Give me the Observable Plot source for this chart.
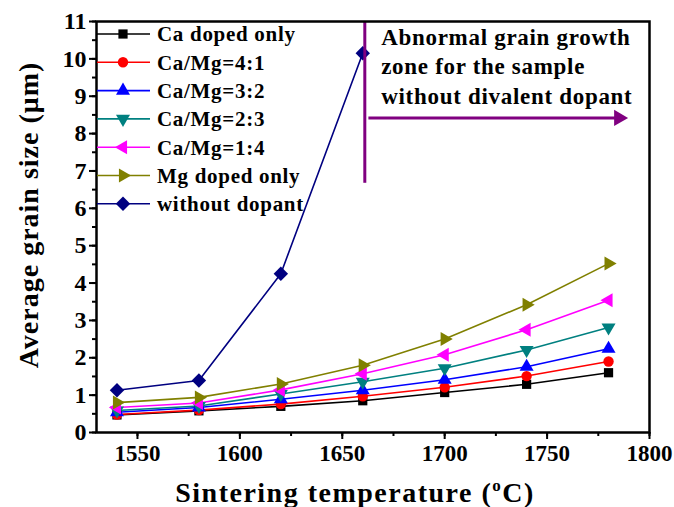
<!DOCTYPE html>
<html><head><meta charset="utf-8">
<script src="https://cdn.jsdelivr.net/npm/d3@7"></script>
<script src="https://cdn.jsdelivr.net/npm/@observablehq/plot@0.6"></script>
<style>body{margin:0;background:#fff}</style>
</head><body><div id="chart"></div>
<script>
// ---- data ----
const temperatures = [1540, 1580, 1620, 1660, 1700, 1740, 1780];
const seriesNames = ["Ca doped only", "Ca/Mg=4:1", "Ca/Mg=3:2", "Ca/Mg=2:3", "Ca/Mg=1:4", "Mg doped only", "without dopant"];
const caDopedOnly   = [0.47, 0.58, 0.70, 0.85, 1.07, 1.29, 1.60];
const caMg41        = [0.48, 0.60, 0.76, 0.97, 1.21, 1.51, 1.90];
const caMg32        = [0.54, 0.67, 0.89, 1.13, 1.41, 1.76, 2.24];
const caMg23        = [0.59, 0.71, 1.03, 1.36, 1.72, 2.21, 2.81];
const caMg14        = [0.67, 0.79, 1.14, 1.57, 2.08, 2.75, 3.54];
const mgDopedOnly   = [0.80, 0.94, 1.30, 1.80, 2.50, 3.42, 4.52];
const withoutDopant = [1.13, 1.39, 4.25, 10.15];
const xTickValues = [1550, 1600, 1650, 1700, 1750, 1800];
const yTickValues = [0, 1, 2, 3, 4, 5, 6, 7, 8, 9, 10, 11];
const annotationLines = ["Abnormal grain growth", "zone for the sample", "without divalent dopant"];
// annotation geometry in data units
const zoneLine = {x: 1661, y1: 6.67, y2: 11};
const zoneArrow = {x1: 1663, x2: 1785, y: 8.42};
const zoneText = {x: 1669, y: 10.95};

// ---- styles ----
const seriesColors = ["#000000", "#ff0000", "#0000ff", "#008080", "#ff00ff", "#808000", "#000080"];
const seriesSymbols = ["square", "circle", "triangle", "triangle", "triangle", "triangle", "diamond2"];
const seriesRotate = [0, 0, 0, 180, -90, 90, 0];
const seriesR = [5.2, 5.2, 5.2, 5.2, 5.2, 5.2, 6.5];
const purple = "#800080";
const FONT = "'Liberation Serif', 'Times New Roman', serif";

const seriesValues = [caDopedOnly, caMg41, caMg32, caMg23, caMg14, mgDopedOnly, withoutDopant];
const rows = seriesNames.map((name, i) =>
  seriesValues[i].map((v, j) => ({series: name, idx: i, t: temperatures[j], v})));

const marks = [];
rows.forEach((data, i) => {
  marks.push(Plot.line(data, {x: "t", y: "v", stroke: seriesColors[i], strokeWidth: 1.6}));
});
rows.forEach((data, i) => {
  marks.push(Plot.dot(data, {x: "t", y: "v", symbol: seriesSymbols[i], fill: seriesColors[i], stroke: "none",
    r: seriesR[i], rotate: seriesRotate[i]}));
});

const plot = Plot.plot({
  width: 674,
  height: 507,
  marginLeft: 96,
  marginRight: 25,
  marginTop: 21,
  marginBottom: 75,
  style: {fontFamily: FONT, fontWeight: "bold", fontSize: "23px", background: "#fff", color: "#000"},
  x: {domain: [1530, 1800]},
  y: {domain: [0, 11]},
  marks: [
    Plot.axisX({ticks: d3.range(1550, 1801, 25), tickSize: 4, strokeWidth: 2, tickFormat: () => "", label: null}),
    Plot.axisX({ticks: xTickValues, tickSize: 7, strokeWidth: 2, tickPadding: 5, tickFormat: d => String(d), label: null, fontSize: 23}),
    Plot.axisY({ticks: d3.range(0, 11.01, 0.5), tickSize: 4, strokeWidth: 2, tickFormat: () => "", label: null}),
    Plot.axisY({ticks: yTickValues, tickSize: 7, strokeWidth: 2, tickPadding: 3, tickFormat: d => String(d), label: null, fontSize: 24}),
    ...marks,
    Plot.ruleX([zoneLine], {x: "x", y1: "y1", y2: "y2", stroke: purple, strokeWidth: 3}),
    Plot.ruleY([zoneArrow], {y: "y", x1: "x1", x2: "x2", stroke: purple, strokeWidth: 3}),
    Plot.dot([zoneArrow], {x: "x2", y: "y", symbol: "triangle", rotate: 90, r: 6, fill: purple, stroke: "none"}),
    Plot.text([annotationLines.join("\n")], {x: () => zoneText.x, y: () => zoneText.y, text: d => d,
      textAnchor: "start", lineAnchor: "top", lineHeight: 1.3, fontSize: 23, fontWeight: "bold", fill: "#000",
      className: "zone-annot"}),
    Plot.frame({stroke: "#000", strokeWidth: 2.5})
  ]
});

document.getElementById("chart").appendChild(plot);

// ---- legend + axis titles ----
const svg = d3.select(plot);
svg.selectAll(".zone-annot text").attr("letter-spacing", "0.7px");
const symMap = {square: d3.symbolSquare, circle: d3.symbolCircle, triangle: d3.symbolTriangle, diamond2: d3.symbolDiamond2};
const lg = svg.append("g").attr("class", "legend").attr("text-anchor", "start");
seriesNames.forEach((name, i) => {
  const y = 34 + i * 28.3;
  lg.append("line").attr("x1", 97).attr("x2", 150).attr("y1", y).attr("y2", y)
    .attr("stroke", seriesColors[i]).attr("stroke-width", 1.6);
  const r = seriesR[i];
  lg.append("path").attr("d", d3.symbol(symMap[seriesSymbols[i]], Math.PI * r * r)())
    .attr("transform", `translate(123,${y}) rotate(${seriesRotate[i]})`)
    .attr("fill", seriesColors[i]);
  lg.append("text").attr("x", 157).attr("y", y).attr("dy", "0.35em").attr("text-anchor", "start")
    .attr("font-size", 21).attr("font-weight", "bold").attr("font-family", FONT).attr("fill", "#000")
    .attr("letter-spacing", "0.7px")
    .text(name);
});

const xt = svg.append("text").attr("x", 355).attr("y", 502).attr("text-anchor", "middle")
  .attr("font-size", 28).attr("font-weight", "bold").attr("font-family", FONT).attr("fill", "#000")
  .attr("letter-spacing", "1.5px");
xt.append("tspan").text("Sintering temperature (");
xt.append("tspan").attr("font-size", 17).attr("dy", -11).text("o");
xt.append("tspan").attr("dy", 11).text("C)");

svg.append("text").attr("transform", "translate(38,215) rotate(-90)").attr("text-anchor", "middle")
  .attr("font-size", 28).attr("font-weight", "bold").attr("font-family", FONT).attr("fill", "#000")
  .attr("letter-spacing", "1px")
  .text("Average grain size (μm)");
</script>
</body></html>
